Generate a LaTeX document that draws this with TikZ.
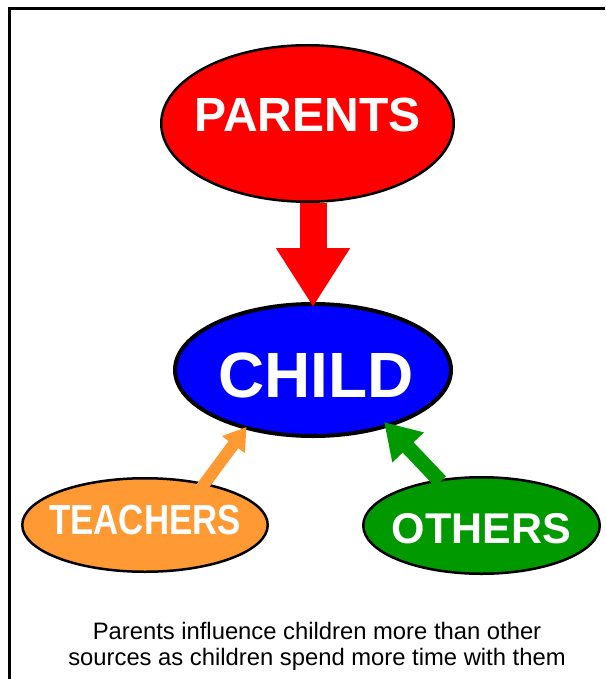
\documentclass[tikz,border=0pt]{standalone}
\usepackage{fontspec}
\setmainfont{Liberation Sans}
\newfontfamily\narrowfont[FakeStretch=0.83]{Liberation Sans}
\usetikzlibrary{arrows.meta,shapes.geometric}
\definecolor{parentred}{HTML}{FF0000}
\definecolor{childblue}{HTML}{0000FF}
\definecolor{teachorange}{HTML}{FF9933}
\definecolor{othergreen}{HTML}{009900}
\tikzset{
  bubble/.style={ellipse, draw=black, line width=2.5pt, inner sep=0pt},
  word/.style={text=white, inner sep=0pt},
  push/.style={line width=#1, line cap=butt}
}

\begin{document}
\begin{tikzpicture}[x=1pt,y=-1pt]
      \useasboundingbox (0,0) rectangle (605,679);
      \draw[line width=3pt] (9.5,679) -- (9.5,8.5) -- (605,8.5);
      \node[bubble, fill=parentred, minimum width=292.5pt, minimum height=156.5pt,
        label={[word, font=\fontsize{48}{48}\selectfont\bfseries, yshift=9pt]center:PARENTS}] (parents) at (307.5,123.5) {};
      \node[bubble, fill=childblue, line width=4pt, minimum width=276pt, minimum height=132pt,
        label={[word, font=\fontsize{64}{64}\selectfont\bfseries, xshift=3pt, yshift=-5pt]center:CHILD}] (child) at (313,370) {};
      \node[bubble, fill=teachorange, minimum width=245.5pt, minimum height=93.5pt,
        label={[word, font=\narrowfont\bfseries\fontsize{42}{42}\selectfont, yshift=5pt]center:TEACHERS}] (teachers) at (145,525) {};
      \node[bubble, fill=othergreen, minimum width=236.5pt, minimum height=96.5pt,
        label={[word, font=\fontsize{43}{43}\selectfont\bfseries, yshift=-3pt]center:OTHERS}] (others) at (481.5,525.5) {};
      \draw[push=27pt, parentred, -{Triangle[length=59pt,width=70pt]}, shorten >=-5pt]
        (parents.south -| child.north) -- (child.north);
      \draw[push=12pt, teachorange, -{Triangle[length=22pt,width=27pt]}, shorten <=-12pt, shorten >=-3pt]
        (teachers.35) -- (child.221);
      \draw[push=15pt, othergreen, -{Triangle[length=35pt,width=41pt]}, shorten <=-3pt, shorten >=-7pt]
        (others.133) -- (child.323);
      \node[font=\fontsize{23.8}{25.5}\selectfont, align=center, inner sep=0pt] (note) at (317,646.5)
        {Parents influence children more than other\\sources as children spend more time with them};
\end{tikzpicture}
\end{document}
